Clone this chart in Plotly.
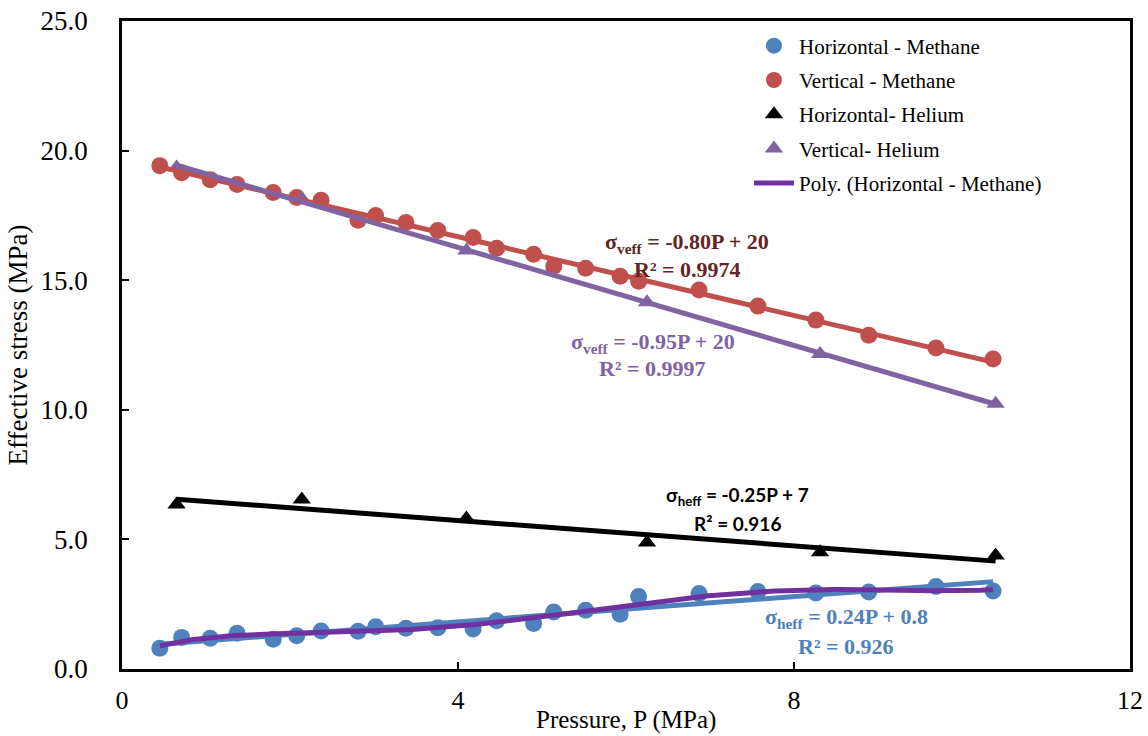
import numpy as np
import plotly.graph_objects as go

# ---- data ----
p_methane = [0.45, 0.71, 1.05, 1.37, 1.80, 2.08, 2.37, 2.81, 3.02, 3.38, 3.76, 4.18,
             4.46, 4.90, 5.14, 5.52, 5.93, 6.15, 6.87, 7.57, 8.26, 8.89, 9.69, 10.37]
horiz_methane = [0.80, 1.22, 1.19, 1.38, 1.15, 1.28, 1.47, 1.46, 1.63, 1.57, 1.59, 1.54,
                 1.86, 1.76, 2.20, 2.27, 2.11, 2.80, 2.91, 2.99, 2.93, 2.97, 3.18, 3.01]
vert_methane = [19.42, 19.15, 18.88, 18.69, 18.38, 18.19, 18.08, 17.31, 17.50, 17.23, 16.92, 16.65,
                16.23, 16.00, 15.54, 15.46, 15.15, 14.96, 14.62, 14.00, 13.46, 12.88, 12.38, 11.96]
p_helium = [0.65, 2.14, 4.10, 6.25, 8.31, 10.40]
horiz_helium = [6.35, 6.54, 5.81, 4.88, 4.50, 4.38]
vert_helium = [19.35, 18.15, 16.15, 14.15, 12.15, 10.23]

x_ticks = [0, 4, 8, 12]
y_ticks = [0, 5, 10, 15, 20, 25]
y_tick_labels = ["0.0", "5.0", "10.0", "15.0", "20.0", "25.0"]

BLUE = "#4F81BD"
RED = "#C0504D"
PURPLE = "#8064A2"
POLY = "#7030A0"
SERIF = "Liberation Serif, Times New Roman, serif"
SANS = "Lato, Liberation Sans, sans-serif"

fig = go.Figure()

# markers
fig.add_trace(go.Scatter(x=p_methane, y=horiz_methane, mode="markers", name="Horizontal - Methane",
                         marker=dict(color=BLUE, size=17, symbol="circle"), legendrank=1,
                         legendgroup="a"))
fig.add_trace(go.Scatter(x=p_methane, y=vert_methane, mode="markers", name="Vertical - Methane",
                         marker=dict(color=RED, size=17, symbol="circle"), legendrank=2,
                         legendgroup="b"))
fig.add_trace(go.Scatter(x=p_helium, y=horiz_helium, mode="markers", name="Horizontal- Helium",
                         marker=dict(color="black", size=16, symbol="triangle-up"), legendrank=3,
                         legendgroup="c"))
fig.add_trace(go.Scatter(x=p_helium, y=vert_helium, mode="markers", name="Vertical- Helium",
                         marker=dict(color=PURPLE, size=16, symbol="triangle-up"), legendrank=4,
                         legendgroup="d"))


def linfit(xs, ys):
    c = np.polyfit(xs, ys, 1)
    xx = np.array([min(xs), max(xs)])
    return xx, np.polyval(c, xx)


# linear trendlines
xx, yy = linfit(p_methane, horiz_methane)
fig.add_trace(go.Scatter(x=xx, y=yy, mode="lines", line=dict(color=BLUE, width=5), showlegend=False))
# polynomial trendline
cpoly = np.polyfit(p_methane, horiz_methane, 5)
xd = np.linspace(min(p_methane), max(p_methane), 200)
fig.add_trace(go.Scatter(x=xd, y=np.polyval(cpoly, xd), mode="lines", name="Poly. (Horizontal - Methane)",
                         line=dict(color=POLY, width=5), legendrank=5, legendgroup="e"))
xx, yy = linfit(p_methane, vert_methane)
fig.add_trace(go.Scatter(x=xx, y=yy, mode="lines", line=dict(color=RED, width=5), showlegend=False))
xx, yy = linfit(p_helium, horiz_helium)
fig.add_trace(go.Scatter(x=xx, y=yy, mode="lines", line=dict(color="black", width=5), showlegend=False))
xx, yy = linfit(p_helium, vert_helium)
fig.add_trace(go.Scatter(x=xx, y=yy, mode="lines", line=dict(color=PURPLE, width=5), showlegend=False))


# equation annotations (two lines each)
def eq(x, y1, y2, line1, line2, color, family, size=22):
    fig.add_annotation(x=x, y=y1, xref="x", yref="y", text="<b>" + line1 + "</b>", showarrow=False,
                       font=dict(family=family, size=size, color=color))
    fig.add_annotation(x=x, y=y2, xref="x", yref="y", text="<b>" + line2 + "</b>", showarrow=False,
                       font=dict(family=family, size=size, color=color))


eq(6.73, 16.42, 15.40, "σ<sub>veff</sub> = -0.80P + 20", "R² = 0.9974", "#632523", SERIF)
eq(6.32, 12.56, 11.58, "σ<sub>veff</sub> = -0.95P + 20", "R² = 0.9997", PURPLE, SERIF)
eq(7.33, 6.68, 5.62, "σ<sub>heff</sub> = -0.25P + 7", "R² = 0.916", "black", SANS, 19)
eq(8.62, 1.95, 0.88, "σ<sub>heff</sub> = 0.24P + 0.8", "R² = 0.926", BLUE, SERIF)

# axis title for x placed in paper coordinates
fig.add_annotation(x=0.5, y=-0.078, xref="paper", yref="paper", yanchor="middle",
                   text="Pressure, P (MPa)", showarrow=False,
                   font=dict(family=SERIF, size=25, color="black"))

fig.update_layout(
    width=1148, height=736,
    margin=dict(l=122, r=18, t=21, b=67),
    paper_bgcolor="white", plot_bgcolor="white",
    font=dict(family=SERIF, color="black"),
    showlegend=True,
    legend=dict(x=0.622, y=0.993, xanchor="left", yanchor="top", bgcolor="rgba(0,0,0,0)",
                font=dict(family=SERIF, size=21, color="black"), traceorder="grouped",
                tracegroupgap=4, itemwidth=40),
    xaxis=dict(range=[0, 12], tickvals=x_ticks, ticktext=[str(v) for v in x_ticks],
               showgrid=False, zeroline=False, showline=True, linecolor="black", linewidth=2.5,
               mirror=True, ticks="inside", ticklen=7, tickwidth=2, tickcolor="black",
               tickfont=dict(family=SERIF, size=26), ticklabelstandoff=6, automargin=False),
    yaxis=dict(range=[0, 25], tickvals=y_ticks, ticktext=y_tick_labels,
               showgrid=False, zeroline=False, showline=True, linecolor="black", linewidth=2.5,
               mirror=True, ticks="inside", ticklen=7, tickwidth=2, tickcolor="black",
               tickfont=dict(family=SERIF, size=27), ticklabelstandoff=26, automargin=False,
               title=dict(text="Effective stress (MPa)", font=dict(family=SERIF, size=27), standoff=6)),
)

fig.write_html("out.html")
